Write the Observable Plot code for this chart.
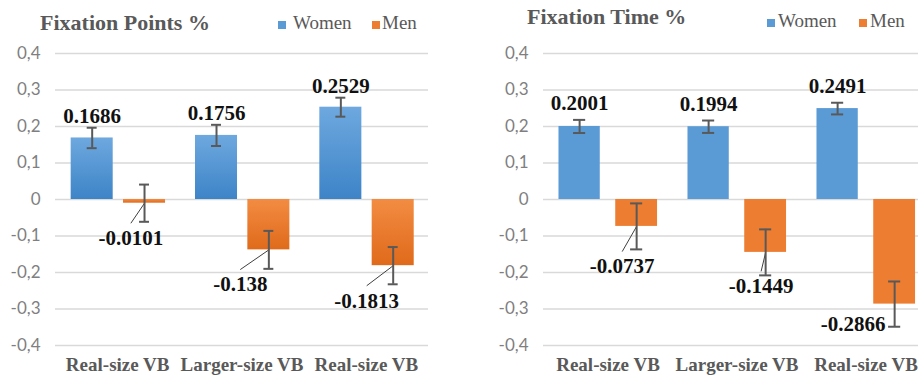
<!DOCTYPE html>
<html><head><meta charset="utf-8">
<script src="https://cdn.jsdelivr.net/npm/d3@7"></script>
<script src="https://cdn.jsdelivr.net/npm/@observablehq/plot@0.6"></script>
<style>
body{margin:0;width:918px;height:376px;overflow:hidden;background:#fff;position:relative}
.panel{position:absolute;top:0;height:376px;overflow:hidden}
.head{position:relative;height:40px}
.title{position:absolute;font-family:"Liberation Serif",serif;font-weight:bold;font-size:22px;line-height:22px;color:#595959;white-space:nowrap}
.sw{position:absolute;width:8px;height:8px}
.lt{position:absolute;font-family:"Liberation Serif",serif;font-size:19px;line-height:19px;color:#595959;white-space:nowrap}
</style></head><body>
<div id="left" class="panel" style="left:0;width:460px"></div>
<div id="right" class="panel" style="left:460px;width:472px"></div>
<script>
// ---- data ----
const categories = ["Real-size VB", "Larger-size VB", "Real-size VB"];
const seriesNames = ["Women", "Men"];
const yTicks = [-0.4, -0.3, -0.2, -0.1, 0, 0.1, 0.2, 0.3, 0.4];

const pointsTitle = "Fixation Points %";
const pointsWomen = [0.1686, 0.1756, 0.2529];
const pointsMen = [-0.0101, -0.138, -0.1813];
const pointsWomenErr = [0.028, 0.029, 0.026];
const pointsMenErr = [0.051, 0.052, 0.051];

const timeTitle = "Fixation Time %";
const timeWomen = [0.2001, 0.1994, 0.2491];
const timeMen = [-0.0737, -0.1449, -0.2866];
const timeWomenErr = [0.018, 0.017, 0.016];
const timeMenErr = [0.063, 0.063, 0.062];

// ---- layout (label callout offsets, in scale units) ----
const pointsMenLabelOffset = [[-0.11, -0.115], [-0.23, -0.114], [-0.213, -0.115]];
const pointsMenLeader = [true, true, true];
const timeMenLabelOffset = [[-0.112, -0.129], [-0.035, -0.112], [-0.322, -0.075]];
const timeMenLeader = [true, true, false];

function defs(svg) {
  const ns = "http://www.w3.org/2000/svg";
  const d = document.createElementNS(ns, "defs");
  d.innerHTML = `
    <linearGradient id="gW" x1="0" y1="0" x2="0" y2="1">
      <stop offset="0" stop-color="#6ea8df"/><stop offset="1" stop-color="#3d84c7"/></linearGradient>
    <linearGradient id="gM" x1="0" y1="0" x2="0" y2="1">
      <stop offset="0" stop-color="#f28c42"/><stop offset="1" stop-color="#e06a1b"/></linearGradient>
    <filter id="shadow" x="-20%" y="-20%" width="140%" height="140%">
      <feDropShadow dx="0" dy="3" stdDeviation="2" flood-color="#000" flood-opacity="0.35"/></filter>`;
  svg.insertBefore(d, svg.firstChild);
}

function panel(el, cfg) {
  const head = document.createElement("div");
  head.className = "head";
  head.innerHTML = `
    <div class="title" style="left:${cfg.titleX}px;top:${cfg.titleTop}px">${cfg.title}</div>
    <div class="sw" style="left:${cfg.leg[0]}px;top:${cfg.legTop}px;background:#5b9bd5"></div>
    <div class="lt" style="left:${cfg.leg[1]}px;top:${cfg.legTextTop}px">${seriesNames[0]}</div>
    <div class="sw" style="left:${cfg.leg[2]}px;top:${cfg.legTop}px;background:#ed7d31"></div>
    <div class="lt" style="left:${cfg.leg[3]}px;top:${cfg.legTextTop}px">${seriesNames[1]}</div>`;
  el.appendChild(head);

  const n = categories.length;
  const rows = categories.map((c, i) => ({
    i, w: cfg.women[i], m: cfg.men[i], we: cfg.womenErr[i], me: cfg.menErr[i],
    off: cfg.offset[i], leader: cfg.leader[i]
  }));
  const [wa, wb] = cfg.womenSpan, [ma, mb] = cfg.menSpan;
  const wc = (wa + wb) / 2, mc = (ma + mb) / 2, cap = cfg.cap;
  const fmt = d => d === 0 ? "0" : d.toFixed(1).replace(".", ",");
  const err = {stroke: "#595959", strokeWidth: 2};
  const lab = {fontWeight: "bold", fontSize: 21, fill: "#111", fontFamily: "Liberation Serif", lineAnchor: "bottom"};

  const svg = Plot.plot({
    width: cfg.width, height: 336,
    marginTop: 13, marginBottom: 31, marginLeft: cfg.ml, marginRight: cfg.mr,
    style: {fontFamily: "Liberation Serif", background: "transparent", overflow: "visible"},
    x: {domain: [-0.5, n - 0.5]},
    y: {domain: [-0.4, 0.4]},
    marks: [
      Plot.ruleY(yTicks, {stroke: "#d9d9d9", strokeWidth: 1.5}),
      Plot.rectY(rows, {x1: d => d.i + wa, x2: d => d.i + wb, y1: 0, y2: "w", fill: cfg.womenFill, ariaLabel: "bars"}),
      Plot.rectY(rows, {x1: d => d.i + ma, x2: d => d.i + mb, y1: 0, y2: "m", fill: cfg.menFill, ariaLabel: "bars"}),
      Plot.link(rows.filter(d => d.leader), {
        x1: d => d.i + mc, y1: "m",
        x2: d => d.i + mc + d.off[0], y2: d => d.m + d.off[1] + 0.06,
        stroke: "#404040", strokeWidth: 1
      }),
      Plot.ruleX(rows, {x: d => d.i + wc, y1: d => d.w - d.we, y2: d => d.w + d.we, ...err}),
      Plot.ruleY(rows, {y: d => d.w - d.we, x1: d => d.i + wc - cap, x2: d => d.i + wc + cap, ...err}),
      Plot.ruleY(rows, {y: d => d.w + d.we, x1: d => d.i + wc - cap, x2: d => d.i + wc + cap, ...err}),
      Plot.ruleX(rows, {x: d => d.i + mc, y1: d => d.m - d.me, y2: d => d.m + d.me, ...err}),
      Plot.ruleY(rows, {y: d => d.m - d.me, x1: d => d.i + mc - cap, x2: d => d.i + mc + cap, ...err}),
      Plot.ruleY(rows, {y: d => d.m + d.me, x1: d => d.i + mc - cap, x2: d => d.i + mc + cap, ...err}),
      Plot.text(rows, {x: d => d.i + wc, y: d => d.w + d.we, text: d => String(d.w), dy: cfg.labelGap, ...lab}),
      Plot.text(rows, {x: d => d.i + mc + d.off[0], y: d => d.m + d.off[1], text: d => String(d.m), ...lab}),
      Plot.axisY({ticks: yTicks, tickFormat: fmt, tickSize: 0, tickPadding: 15,
        fontFamily: "Lato", fontSize: 17, color: "#7f7f7f", label: null}),
      Plot.axisX({ticks: d3.range(n), tickFormat: i => categories[i], tickSize: 0, tickPadding: 12,
        fontFamily: "Liberation Serif", fontWeight: "bold", fontSize: 19, color: "#595959", label: null})
    ]
  });
  defs(svg);
  if (cfg.shadow) svg.querySelectorAll('g[aria-label="bars"]').forEach(g => g.setAttribute("filter", "url(#shadow)"));
  el.appendChild(svg);
}

panel(document.getElementById("left"), {
  title: pointsTitle, titleX: 40, titleTop: 12,
  leg: [278, 293, 372, 382], legTop: 21, legTextTop: 13,
  women: pointsWomen, men: pointsMen, womenErr: pointsWomenErr, menErr: pointsMenErr,
  offset: pointsMenLabelOffset, leader: pointsMenLeader,
  width: 460, ml: 55, mr: 32,
  womenSpan: [-0.374, -0.036], menSpan: [0.047, 0.385], cap: 0.04,
  womenFill: "url(#gW)", menFill: "url(#gM)", shadow: true, labelGap: -5
});
panel(document.getElementById("right"), {
  title: timeTitle, titleX: 67, titleTop: 6,
  leg: [307, 318, 399, 410], legTop: 19, legTextTop: 11,
  women: timeWomen, men: timeMen, womenErr: timeWomenErr, menErr: timeMenErr,
  offset: timeMenLabelOffset, leader: timeMenLeader,
  width: 470, ml: 83, mr: 0,
  womenSpan: [-0.38, -0.06], menSpan: [0.06, 0.384], cap: 0.047,
  womenFill: "#5b9bd5", menFill: "#ed7d31", shadow: false, labelGap: -10
});
</script>
</body></html>
